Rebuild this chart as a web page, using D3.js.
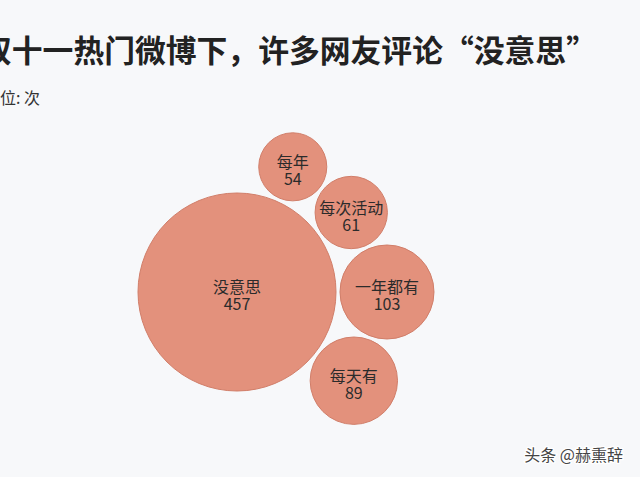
<!DOCTYPE html>
<html>
<head>
<meta charset="utf-8">
<script src="https://cdn.jsdelivr.net/npm/d3@7"></script>
<style>
  html, body { margin: 0; padding: 0; background: #f7f8fa; }
  svg { display: block; }
</style>
</head>
<body>
<svg id="chart" width="640" height="477"></svg>
<script>
// ---- data ----
const categories = ["没意思", "一年都有", "每天有", "每次活动", "每年"];
const values = [457, 103, 89, 61, 54];
const titleText = "双十一热门微博下，许多网友评论“没意思”";
const subtitleText = "单位: 次";
const watermarkText = "头条 @赫熏辞";

// ---- layout / style ----
const W = 640, H = 477;
const fillColor = "#e3917c";
const strokeColor = "#d17e69";
const pad = 2;
const anchor = { x: 237, y: 292 }; // where the largest bubble sits

const svg = d3.select("#chart");
svg.append("rect").attr("width", W).attr("height", H).attr("fill", "#f7f8fa");

svg.append("text")
  .attr("x", -19).attr("y", 62)
  .attr("font-family", "'Noto Sans CJK SC', sans-serif")
  .attr("font-size", 30.8).attr("font-weight", 700)
  .attr("fill", "#222")
  .text(titleText);

svg.append("text")
  .attr("x", -16).attr("y", 104)
  .attr("font-family", "'Noto Sans CJK SC', sans-serif")
  .attr("font-size", 16)
  .attr("fill", "#333")
  .text(subtitleText);

const r = d3.scaleSqrt().domain([0, d3.max(values)]).range([0, 99]);

const nodes = categories.map((c, i) => ({ name: c, value: values[i], r: r(values[i]) + pad }));
d3.packSiblings(nodes);

const offX = anchor.x - nodes[0].x, offY = anchor.y - nodes[0].y;
const g = svg.append("g").attr("transform", `translate(${offX},${offY})`);

const bubble = g.selectAll("g.b").data(nodes).join("g")
  .attr("class", "b")
  .attr("transform", d => `translate(${d.x},${d.y})`);

bubble.append("circle")
  .attr("r", d => r(d.value))
  .attr("fill", fillColor)
  .attr("stroke", strokeColor)
  .attr("stroke-width", 1);

const nameLab = bubble.append("text")
  .attr("text-anchor", "middle")
  .attr("font-family", "'Noto Sans CJK SC', sans-serif")
  .attr("font-size", 16)
  .attr("fill", "#2b2b2b")
  .attr("y", 1)
  .text(d => d.name);
const valLab = bubble.append("text")
  .attr("text-anchor", "middle")
  .attr("font-family", "'Noto Sans CJK SC', sans-serif")
  .attr("font-size", 16)
  .attr("fill", "#2b2b2b")
  .attr("y", 18)
  .text(d => d.value);

svg.append("text")
  .attr("x", 623).attr("y", 461)
  .attr("text-anchor", "end")
  .attr("font-family", "'Noto Sans CJK SC', sans-serif")
  .attr("font-size", 16)
  .attr("fill", "#444")
  .attr("stroke", "#fff").attr("stroke-width", 2.5)
  .attr("paint-order", "stroke")
  .text(watermarkText);
</script>
</body>
</html>
